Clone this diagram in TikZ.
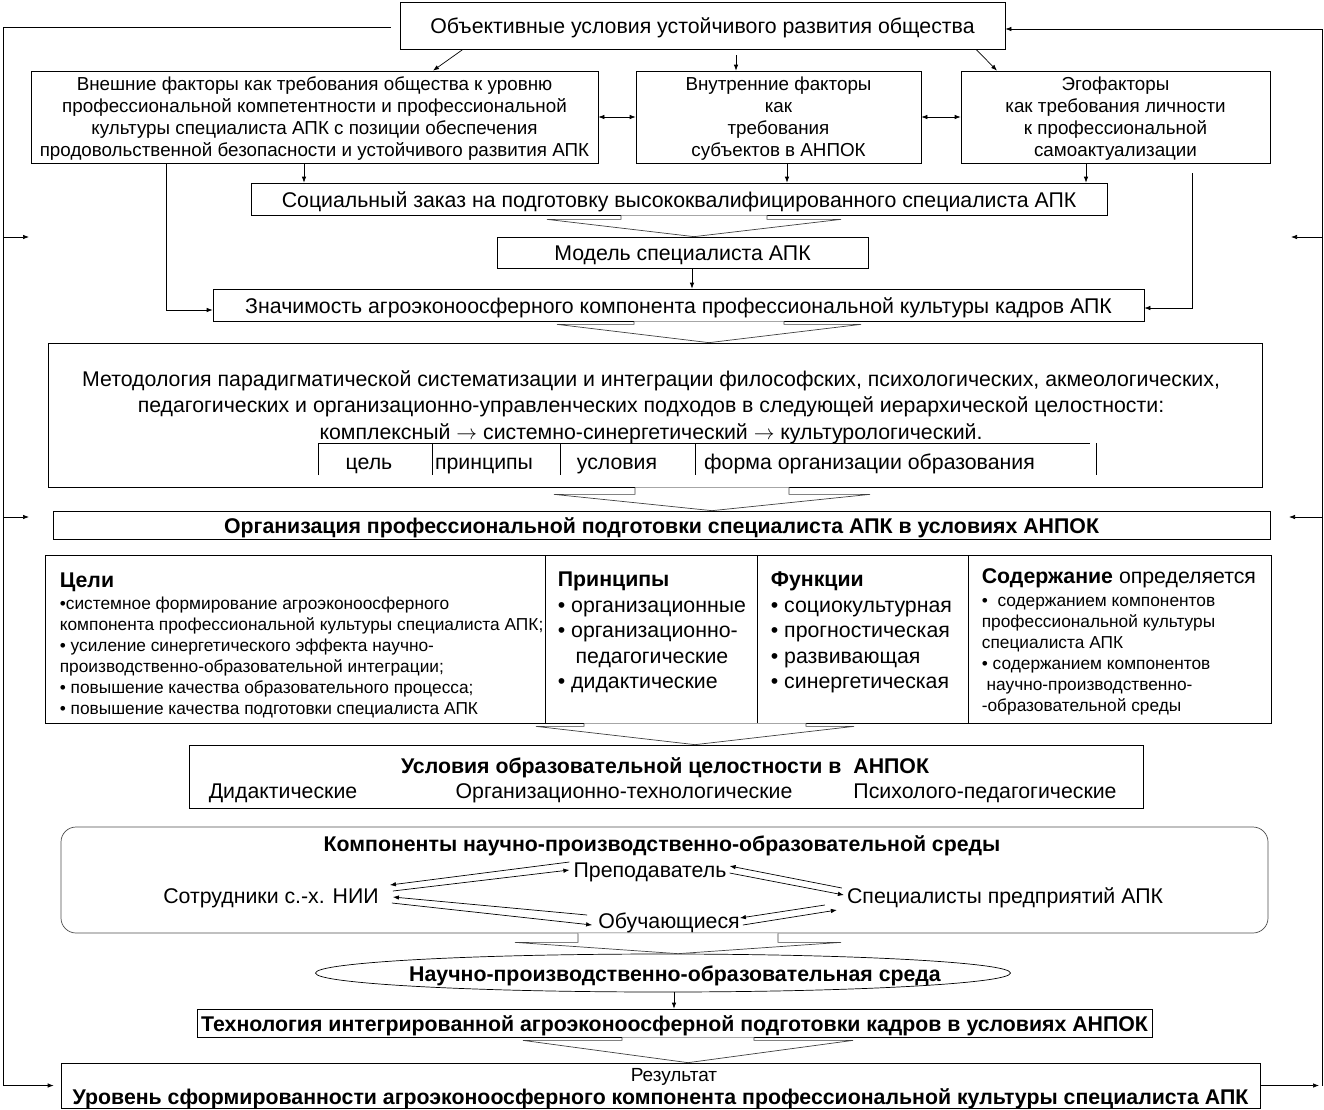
\documentclass[tikz,border=0pt]{standalone}
\usepackage{fontspec}
\setmainfont{Liberation Sans}
\usetikzlibrary{calc,shapes.geometric,arrows.meta}

\def\fsn{\fontsize{21.3}{24}\selectfont}
\def\fsr{\fontsize{18.8}{22}\selectfont}
\def\fss{\fontsize{17.3}{21}\selectfont}

\newcommand\blockarrow[6]{%
\path (#3,0 |- #1.south) coordinate (bs) (#3,0 |- #2.north) coordinate (bt);
\draw[bigarr] ($(bs)+(-#4,0)$) -- ($(bs)+(-#4,#6)$) -- ($(bs)+(-#5,#6)$) -- (bt) -- ($(bs)+(#5,#6)$) -- ($(bs)+(#4,#6)$) -- ($(bs)+(#4,0)$);}

\begin{document}
\begin{tikzpicture}[x=1pt,y=-1pt,
box/.style={draw,line width=0.7pt,inner sep=1pt,align=center,font=\fsn},
one/.style={text height=18pt,text depth=2pt},
bbox/.style={box,one,font=\bfseries\fsn},
lbl/.style={inner sep=1pt,font=\fsn},
tl/.style={lbl,one},
arr/.style={-{Latex[length=6pt,width=4.5pt]},line width=0.7pt},
dblarr/.style={{Latex[length=6pt,width=4.5pt]}-{Latex[length=6pt,width=4.5pt]},line width=0.7pt},
bigarr/.style={draw=black!75,fill=white,line width=0.7pt}]
\useasboundingbox (0,0) rectangle (1324,1109);

\node[box,one,minimum width=605pt,minimum height=47pt] (top) at (702.5,25.5) {Объективные условия устойчивого развития общества};
\node[box,font=\fsr,text depth=-2pt,minimum width=567pt,minimum height=92pt] (ext) at (314.5,117) {Внешние факторы как требования общества к уровню\\профессиональной компетентности и профессиональной\\культуры специалиста АПК с позиции обеспечения\\продовольственной безопасности и устойчивого развития АПК};
\node[box,font=\fsr,text depth=-2pt,minimum width=285pt,minimum height=92pt] (int) at (778.5,117) {Внутренние факторы\\как\\требования\\субъектов в АНПОК};
\node[box,font=\fsr,text depth=-2pt,minimum width=309pt,minimum height=92pt] (ego) at (1115.5,117) {Эгофакторы\\как требования личности\\к профессиональной\\самоактуализации};
\node[box,one,minimum width=856pt,minimum height=32pt] (social) at (679,199) {Социальный заказ на подготовку высококвалифицированного специалиста АПК};
\node[box,one,minimum width=371pt,minimum height=31pt] (model) at (682.5,252.5) {Модель специалиста АПК};
\node[box,one,minimum width=931pt,minimum height=32pt] (znach) at (678.5,305) {Значимость агроэконоосферного компонента профессиональной культуры кадров АПК};

\node[box,minimum width=1214pt,minimum height=144pt] (method) at (655,415) {};
\node[lbl,align=center,font=\fontsize{21.3}{26.5}\selectfont] (mtext) at (651,407) {Методология парадигматической систематизации и интеграции философских, психологических, акмеологических,\\педагогических и организационно-управленческих подходов в следующей иерархической целостности:\\комплексный $\rightarrow$ системно-синергетический $\rightarrow$ культурологический.};
\draw[line width=0.7pt] (318,475) -- (318,443) -- (1090,443);
\foreach \xx in {432,560,695,1096} \draw[line width=0.7pt] (\xx,443) -- (\xx,475);
\node[lbl,anchor=base] (cgoal) at (369,469) {цель};
\node[lbl,anchor=base] (cprin) at (484,469) {принципы};
\node[lbl,anchor=base] (ccond) at (617,469) {условия};
\node[lbl,anchor=base west] (cform) at (703,469) {форма организации образования};

\node[bbox,minimum width=1217pt,minimum height=28pt] (org) at (661.5,525) {Организация профессиональной подготовки специалиста АПК в условиях АНПОК};

\node[box,minimum width=500pt,minimum height=168pt] (goals) at (295,639) {};
\node[box,minimum width=212pt,minimum height=168pt] (princ) at (651,639) {};
\node[box,minimum width=211pt,minimum height=168pt] (func) at (862.5,639) {};
\node[box,minimum width=303pt,minimum height=168pt] (cont) at (1119.5,639) {};
\node[lbl,anchor=north west,align=left,font=\fss] (goalst) at ([xshift=14pt,yshift=-17pt]goals.north west) {{\bfseries\fsn Цели}\\[1pt]•системное формирование агроэконоосферного\\компонента профессиональной культуры специалиста АПК;\\• усиление синергетического эффекта научно-\\производственно-образовательной интеграции;\\• повышение качества образовательного процесса;\\• повышение качества подготовки специалиста АПК};
\node[lbl,anchor=north west,align=left,font=\fontsize{21.3}{25.5}\selectfont] (princt) at ([xshift=12pt,yshift=-16pt]princ.north west) {\textbf{Принципы}\\• организационные\\• организационно-\\\ \ \ педагогические\\• дидактические};
\node[lbl,anchor=north west,align=left,font=\fontsize{21.3}{25.5}\selectfont] (funct) at ([xshift=13pt,yshift=-16pt]func.north west) {\textbf{Функции}\\• социокультурная\\• прогностическая\\• развивающая\\• синергетическая};
\node[lbl,anchor=north west,align=left,font=\fss] (contt) at ([xshift=13pt,yshift=-13pt]cont.north west) {{\fsn\bfseries Содержание\mdseries{} определяется}\\[2pt]• \ содержанием компонентов\\профессиональной культуры\\специалиста АПК\\• содержанием компонентов\\\ научно-производственно-\\-образовательной среды};

\node[box,minimum width=954pt,minimum height=63pt] (usl) at (666,776.5) {};
\node[tl,font=\bfseries\fsn] (uslt) at (665,765) {Условия образовательной целостности в\ \ АНПОК};
\node[tl] (usl1) at (283,790) {Дидактические};
\node[tl] (usl2) at (624,790) {Организационно-технологические};
\node[tl] (usl3) at (985,790) {Психолого-педагогические};

\node[box,draw=black!70,rounded corners=15pt,minimum width=1207pt,minimum height=106pt] (comp) at (664.5,880) {};
\node[tl,font=\bfseries\fsn] (compt) at (662,843) {Компоненты научно-производственно-образовательной среды};
\node[tl] (prep) at (650,869) {Преподаватель};
\node[tl] (sotr) at (271,895) {Сотрудники с.-х. НИИ};
\node[tl] (spec) at (1005,895) {Специалисты предприятий АПК};
\node[tl] (obuch) at (669,920) {Обучающиеся};

\node[box,ellipse,minimum width=695pt,minimum height=38pt] (env) at (663,973) {};
\node[tl,font=\bfseries\fsn] (envt) at (675,973) {Научно-производственно-образовательная среда};
\node[bbox,minimum width=955pt,minimum height=28pt] (tech) at (674.5,1023) {Технология интегрированной агроэконоосферной подготовки кадров в условиях АНПОК};
\node[box,minimum width=1199pt,minimum height=45pt] (res) at (660.5,1085.5) {};
\node[tl,font=\fontsize{19}{20}\selectfont] (rest) at (674,1073) {Результат};
\node[tl,font=\bfseries\fsn] (resb) at (660.5,1096) {Уровень сформированности агроэконоосферного компонента профессиональной культуры специалиста АПК};

\draw[arr] ([xshift=-239.5pt]top.south) -- ([xshift=118.5pt]ext.north);
\draw[arr] ([xshift=33.5pt,yshift=-6pt]top.south) -- ([xshift=-42.5pt]int.north);
\draw[arr] ([xshift=273.5pt]top.south) -- ([xshift=-118.5pt]ego.north);
\draw[dblarr] (ext.east) -- (int.west);
\draw[dblarr] (int.east) -- (ego.west);
\draw[arr] ([xshift=-10.5pt]ext.south) coordinate (a1) -- (a1 |- social.north);
\draw[arr] ([xshift=8.5pt]int.south) coordinate (a2) -- (a2 |- social.north);
\draw[arr] ([xshift=-29.5pt]ego.south) coordinate (a3) -- (a3 |- social.north);
\draw[arr] ([xshift=9.5pt]model.south) coordinate (a4) -- (a4 |- znach.north);
\draw[arr] ([xshift=-148.5pt]ext.south) |- ([yshift=-5pt]znach.west);
\draw[arr] ([xshift=76.5pt,yshift=-10pt]ego.south) |- ([yshift=-3pt]znach.east);
\draw[arr] ([xshift=11pt]env.south) coordinate (a5) -- (a5 |- tech.north);

\blockarrow{social}{model}{694}{73}{147}{4}
\blockarrow{znach}{method}{709}{75}{152}{3}
\blockarrow{method}{org}{712}{77}{158}{7}
\blockarrow{princ}{usl}{695}{111}{159}{3}
\blockarrow{comp}{env}{678}{100}{163}{9}
\blockarrow{tech}{res}{688}{66}{165}{3}

\draw[arr] ([xshift=-3pt,yshift=7pt]prep.west) -- ([xshift=10pt,yshift=10pt]sotr.east);
\draw[arr] ([xshift=13pt,yshift=4pt]sotr.east) -- ([xshift=-3pt,yshift=-1pt]prep.west);
\draw[arr] ([xshift=-10pt,yshift=5pt]obuch.west) -- ([xshift=13pt,yshift=-2pt]sotr.east);
\draw[arr] ([xshift=12pt,yshift=-8pt]sotr.east) -- ([xshift=-5pt,yshift=-5pt]obuch.west);
\draw[arr] ([xshift=-4pt,yshift=7pt]spec.west) -- ([xshift=2pt,yshift=3pt]prep.east);
\draw[arr] ([xshift=2pt,yshift=-4pt]prep.east) -- ([xshift=-2pt]spec.west);
\draw[arr] ([xshift=-21pt,yshift=-10pt]spec.west) -- ([xshift=-1pt,yshift=2pt]obuch.east);
\draw[arr] ([xshift=2pt,yshift=-5pt]obuch.east) -- ([xshift=-9pt,yshift=-15pt]spec.west);

\coordinate (L) at (3,0);
\coordinate (R) at (1322,0);
\coordinate (R2) at (1319,0);
\coordinate (la1) at (29,237);
\coordinate (la2) at (29,517);
\coordinate (ra1) at (1291,237);
\coordinate (ra2) at (1289,517);
\draw[arr] ([xshift=-9pt,yshift=-2pt]top.west) coordinate (a6) -- (L |- a6) -- (L |- res.west) -- ([xshift=-7pt]res.west);
\path ([yshift=-3.5pt]top.east) coordinate (a7);
\draw[arr] (res.east) -- (R2 |- res.east);
\draw[arr] (R |- res.east) -- (R |- a7) -- (a7);
\draw[arr] (L |- la1) -- (la1);
\draw[arr] (L |- la2) -- (la2);
\draw[arr] (R |- ra1) -- (ra1);
\draw[arr] (R |- ra2) -- (ra2);
\end{tikzpicture}
\end{document}
